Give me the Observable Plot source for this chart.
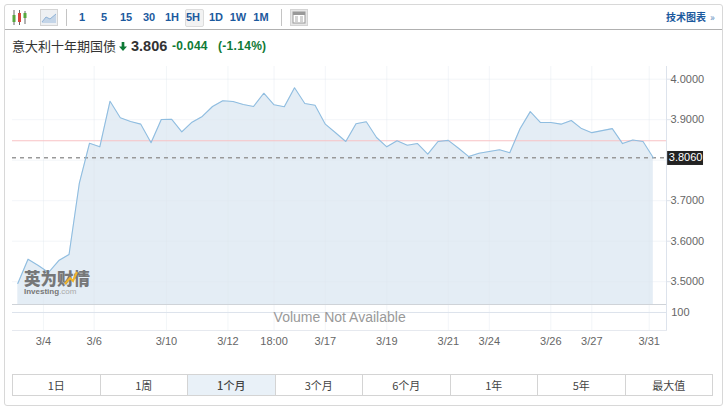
<!DOCTYPE html>
<html lang="zh">
<head>
<meta charset="utf-8">
<script src="https://cdn.jsdelivr.net/npm/d3@7"></script>
<script src="https://cdn.jsdelivr.net/npm/@observablehq/plot@0.6"></script>
<style>
html,body{margin:0;padding:0;background:#fff;width:724px;height:413px;overflow:hidden;font-family:"Liberation Sans",Arial,sans-serif}
#box{position:absolute;left:4px;top:4px;width:717px;height:400px;border:1px solid #d8d8d8;border-radius:3px;box-sizing:content-box}
#tbline{position:absolute;left:5px;top:29px;width:717px;height:1px;background:#b0b0b0}
.t{position:absolute;color:#1c5a9e;font-weight:bold;font-size:11px;line-height:14px;top:10px;transform:translateX(-50%);white-space:nowrap}
.sep{position:absolute;top:9px;width:1px;height:17px;background:#c4c4c4}
#active{position:absolute;left:185px;top:9px;width:17px;height:16px;background:#f2f2f2;border:1px solid #dcdcdc;border-radius:2px}
.hd{position:absolute;white-space:nowrap;top:36px;line-height:20px}
#chart{position:absolute;left:0;top:66px}
#btns{position:absolute;left:12px;top:374px;width:701px;height:22px;display:flex;box-sizing:border-box;border:1px solid #d4d4d4}
#btns div{flex:1;text-align:center;font:11px/20px "Noto Sans CJK SC","Liberation Sans",sans-serif;color:#444;border-left:1px solid #d4d4d4}
#btns div:first-child{border-left:0}
#btns div.on{background:#e9f1f8;font-weight:500}
#wm{position:absolute;left:24px;top:270px;height:16px;color:#6b6b6b;font:900 16.500px/16px "Noto Sans CJK SC",sans-serif;white-space:nowrap;opacity:.9}
#wm2{position:absolute;left:24px;top:288px;height:8px;color:#777;font:bold 8px/8px "Liberation Sans",sans-serif;white-space:nowrap}
#wm2 span{font-weight:normal;color:#aaa}
</style>
</head>
<body>
<div id="box"></div>
<div id="tbline"></div>

<svg style="position:absolute;left:11px;top:9px" width="17" height="17" viewBox="0 0 17 17">
  <path d="M3 1v15M8.500 1v15M14 2v13" stroke="#666" stroke-width="1"/>
  <rect x="1.500" y="6" width="3" height="7" fill="#58a83f"/>
  <rect x="7" y="4" width="3" height="9" fill="#d9443b"/>
  <rect x="12.500" y="4" width="3" height="5" fill="#58a83f"/>
</svg>
<svg style="position:absolute;left:40px;top:9px" width="18" height="17" viewBox="0 0 18 17">
  <rect x=".5" y=".5" width="17" height="16" fill="#eef0f3" stroke="#d4d4d4"/>
  <path d="M2 13 L6 8 L10 10 L16 5 V14 H2Z" fill="#c4d5e8"/>
  <path d="M2 13 L6 8 L10 10 L16 5" fill="none" stroke="#8fb2d6"/>
</svg>
<div class="sep" style="left:66px"></div>
<div id="active"></div>
<div class="sep" style="left:281px"></div>
<svg style="position:absolute;left:290px;top:9px" width="18" height="17" viewBox="0 0 18 17">
  <rect x=".5" y=".5" width="17" height="16" fill="#e6e6e6" stroke="#d4d4d4"/>
  <rect x="3" y="3" width="12" height="11" fill="#fff" stroke="#999"/>
  <rect x="3" y="3" width="12" height="3" fill="#999"/>
  <path d="M5 8h3M5 10h3M5 12h3M10 8h3M10 10h3M10 12h3" stroke="#aaa"/>
</svg>
<div id="tools"></div>
<div class="t" style="left:666px;transform:none;font-size:10px;font-family:'Noto Sans CJK SC',sans-serif;top:10px">技术图表<span style="font-weight:normal;color:#5d8bbd;margin-left:4px">»</span></div>

<div class="hd" style="left:12px;font:13px/20px 'Noto Sans CJK SC',sans-serif;color:#333">意大利十年期国债</div>
<svg style="position:absolute;left:119px;top:42px" width="8" height="9" viewBox="0 0 9 10"><path d="M3 0h3v5h3L4.500 10 0 5h3z" fill="#0e7a36"/></svg>
<div class="hd" style="left:131px;font-weight:bold;font-size:14.500px;color:#333">3.806</div>
<div class="hd" style="left:172px;font-weight:bold;font-size:12px;color:#0e7a36;letter-spacing:.3px">-0.044</div>
<div class="hd" style="left:218px;font-weight:bold;font-size:12px;color:#0e7a36;letter-spacing:.3px">(-1.14%)</div>

<div id="chart"></div>
<div id="wm">英为财情</div>
<svg style="position:absolute;left:64px;top:271px" width="14" height="14"><path d="M1 13 L6 7 L9 10 L13 1" fill="none" stroke="#f0b429" stroke-width="2"/></svg>
<div id="wm2">Investing<span>.com</span></div>
<div id="btns"></div>

<script>
const toolLabels = ["1","5","15","30","1H","5H","1D","1W","1M"];
const toolCentres = [82,104,126,149,172,193,216,238,261];
const rangeLabels = ["1日","1周","1个月","3个月","6个月","1年","5年","最大值"];
const activeRange = "1个月";

const yields = [3.4956,3.5556,3.540,3.5227,3.5523,3.5672,3.7425,3.842,3.833,3.9457,
  3.9047,3.8956,3.889,3.843,3.9005,3.9012,3.870,3.8938,3.908,3.9326,
  3.9467,3.945,3.9375,3.9326,3.9654,3.9368,3.932,3.9788,3.94,3.9358,
  3.889,3.8677,3.8462,3.89,3.8948,3.856,3.833,3.848,3.837,3.8412,
  3.8148,3.8462,3.849,3.8296,3.809,3.8173,3.8215,3.8257,3.8183,3.8775,
  3.92,3.893,3.893,3.889,3.898,3.878,3.868,3.873,3.878,3.841,
  3.85,3.846,3.806];
const points = yields.map((v,i)=>({i,v}));

const xTickPos = [2.5,7.45,14.5,20.5,25,30,36,42,46,52,56,61.6];
const xTickLabels = ["3/4","3/6","3/10","3/12","18:00","3/17","3/19","3/21","3/24","3/26","3/27","3/31"];
const yGrid = [4,3.9,3.8,3.7,3.6,3.5];
const yLabelled = [4,3.9,3.7,3.6,3.5];
const prevClose = 3.848;
const lastValue = 3.806;
const priceFloor = 3.4437;
const volumeTick = 3.424;
const volumeMsgY = 3.412;

document.getElementById("tools").innerHTML = toolLabels.map((l,i)=>
  `<div class="t" style="left:${toolCentres[i]}px">${l}</div>`).join("");
document.getElementById("btns").innerHTML = rangeLabels.map(l=>
  `<div class="${l===activeRange?"on":""}">${l}</div>`).join("");

const chart = Plot.plot({
  width:724, height:290,
  marginLeft:12, marginRight:58, marginTop:0, marginBottom:26,
  style:{fontFamily:"'Liberation Sans',Arial,sans-serif",background:"transparent",overflow:"visible"},
  x:{type:"linear",domain:[0,62],range:[17.3,652.8]},
  y:{type:"linear",domain:[3.5,4],range:[215.2,12.7]},
  marks:[
    Plot.areaY(points,{x:"i",y1:priceFloor,y2:"v",fill:"#e4edf5",curve:"linear"}),
    Plot.gridX(xTickPos,{stroke:"#dfe5ee",strokeOpacity:0.4}),
    Plot.gridY(yGrid,{stroke:"#dfe5ee",strokeOpacity:0.4}),
    Plot.ruleY([priceFloor],{stroke:"#cfd3d8"}),
    Plot.frame({anchor:"right",stroke:"#dde3ec"}),
    Plot.frame({anchor:"bottom",stroke:"#e6e9ef"}),
    Plot.ruleY([prevClose],{stroke:"#f8c2c4",strokeWidth:1.2}),
    Plot.ruleY([lastValue],{stroke:"#999",strokeWidth:1.5,strokeDasharray:"4,4"}),
    Plot.lineY(points,{x:"i",y:"v",stroke:"#8fbde0",strokeWidth:1.1}),
    Plot.axisY(yLabelled,{anchor:"right",tickSize:4,tickPadding:0,tickFormat:d3.format(".4f"),
      fontSize:11,color:"#666",stroke:"#dde3ec",label:null}),
    Plot.tickY([volumeTick],{x1:62.9,x2:63.7,stroke:"#dde3ec"}),
    Plot.text(["100"],{x:63.75,y:volumeTick,textAnchor:"start",fontSize:11,fill:"#666"}),
    Plot.axisX(xTickPos,{anchor:"bottom",tickSize:0,tickPadding:7,
      tickFormat:(d,i)=>xTickLabels[i],fontSize:11,color:"#666",label:null}),
    Plot.text(["Volume Not Available"],{x:31.4,y:volumeMsgY,fontSize:14,fill:"#999"}),
    Plot.rect([{}],{x1:63.4,x2:66.9,y1:3.787,y2:3.8215,fill:"#222"}),
    Plot.text(["3.8060"],{x:65.15,y:lastValue,fontSize:11,fill:"#fff"})
  ]
});
document.getElementById("chart").appendChild(chart);
</script>
</body>
</html>
